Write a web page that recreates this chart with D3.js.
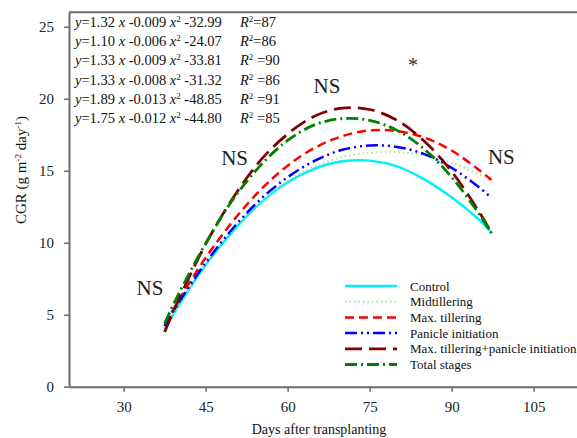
<!DOCTYPE html>
<html>
<head>
<meta charset="utf-8">
<script src="https://cdn.jsdelivr.net/npm/d3@7"></script>
<style>
  html, body { margin: 0; padding: 0; background: #fff; }
  svg { display: block; font-family: "Liberation Serif", "Times New Roman", serif; }
</style>
</head>
<body>
<svg id="chart" width="577" height="438"></svg>
<script>
// ---- data ----
const days = [37.5, 40, 45, 50, 55, 60, 65, 70, 75, 80, 85, 90, 95, 97.3];
const control      = [4.0, 5.6, 8.45, 10.8, 12.75, 14.2, 15.15, 15.65, 15.7, 15.3, 14.4, 13.15, 11.6, 10.7];
const midtillering = [4.0, 5.6, 8.5, 10.9, 12.8, 14.3, 15.3, 15.95, 16.25, 16.3, 16.05, 15.55, 14.75, 14.3];
const maxTillering = [4.3, 5.95, 8.95, 11.5, 13.65, 15.35, 16.6, 17.4, 17.8, 17.75, 17.3, 16.4, 15.05, 14.35];
const panicleInit  = [4.2, 5.8, 8.6, 11.0, 13.0, 14.55, 15.7, 16.45, 16.75, 16.65, 16.15, 15.2, 13.85, 13.1];
const maxTillPI    = [3.8, 6.0, 9.9, 13.1, 15.7, 17.55, 18.8, 19.35, 19.25, 18.5, 17.05, 14.95, 12.15, 10.65];
const totalStages  = [4.4, 6.4, 9.95, 13.0, 15.35, 17.1, 18.2, 18.62, 18.5, 17.8, 16.5, 14.55, 12.0, 10.65];

const seriesNames = ["Control", "Midtillering", "Max. tillering", "Panicle initiation",
                     "Max. tillering+panicle initiation", "Total stages"];
const xTicks = [30, 45, 60, 75, 90, 105];
const yTicks = [0, 5, 10, 15, 20, 25];

// regression equations shown on the chart
const eqLinear = ["1.32", "1.10", "1.33", "1.33", "1.89", "1.75"];
const eqQuad   = ["0.009", "0.006", "0.009", "0.008", "0.013", "0.012"];
const eqConst  = ["32.99", "24.07", "33.81", "31.32", "48.85", "44.80"];
const eqR2     = ["87", "86", "90", "86", "91", "85"];

// significance labels (day, CGR level of the baseline)
const sigDays   = [34.8, 50.3, 67.2, 99.1];
const sigLevels = [6.37, 15.4, 20.4, 15.5];
const sigTexts  = ["NS", "NS", "NS", "NS"];

// ---- styles ----
const styles = [
  {color: "#00f0ff", dash: null, width: 2.5},
  {color: "#9aea9a", dash: "1.5,3", width: 2},
  {color: "#ff0000", dash: "9,5", width: 2.5},
  {color: "#0000ff", dash: "12,4,2,4,2,4", width: 2.5},
  {color: "#800000", dash: "17,7", width: 2.8},
  {color: "#008000", dash: "12,4,2,4", width: 2.8}
];

const svg = d3.select("#chart");
const x = d3.scaleLinear().domain([20, 115]).range([69, 588.3]);
const y = d3.scaleLinear().domain([0, 26]).range([386.7, 12.3]);
const axisColor = "#6a6a6a";

// frame top line
svg.append("line").attr("x1", x(20)).attr("x2", 577).attr("y1", y(26)).attr("y2", y(26))
  .attr("stroke", axisColor).attr("stroke-width", 2);

// axes
const xAxis = svg.append("g").attr("transform", `translate(0,${y(0)})`)
  .call(d3.axisBottom(x).tickValues(xTicks).tickSize(5).tickPadding(10).tickSizeOuter(0));
const yAxis = svg.append("g").attr("transform", `translate(${x(20)},0)`)
  .call(d3.axisLeft(y).tickValues(yTicks).tickSize(5).tickPadding(10).tickSizeOuter(0));
[xAxis, yAxis].forEach(g => {
  g.attr("font-family", "Liberation Serif, serif");
  g.select(".domain").attr("stroke", axisColor).attr("stroke-width", 2);
  g.selectAll(".tick line").attr("stroke", axisColor).attr("stroke-width", 1.5);
  g.selectAll(".tick text").attr("fill", "#222").style("font-size", "15px")
    .style("font-family", "'Liberation Serif', serif");
});

// curves
const allSeries = [control, midtillering, maxTillering, panicleInit, maxTillPI, totalStages];
const line = d3.line().x((d, i) => x(days[i])).y(d => y(d)).curve(d3.curveCatmullRom.alpha(0.5));
allSeries.forEach((s, k) => {
  svg.append("path").datum(s).attr("d", line)
    .attr("fill", "none").attr("stroke", styles[k].color)
    .attr("stroke-width", styles[k].width)
    .attr("stroke-dasharray", styles[k].dash);
});

// equations
const eqG = svg.append("g").style("font-size", "14.5px").attr("fill", "#111");
eqLinear.forEach((a, i) => {
  const yy = 27 + i * 19.2;
  const t = eqG.append("text").attr("x", 75).attr("y", yy);
  t.append("tspan").style("font-style", "italic").text("y");
  t.append("tspan").text("=" + a + " ");
  t.append("tspan").style("font-style", "italic").text("x");
  t.append("tspan").text(" -" + eqQuad[i] + " ");
  t.append("tspan").style("font-style", "italic").text("x");
  t.append("tspan").attr("dy", -5).style("font-size", "9px").text("2");
  t.append("tspan").attr("dy", 5).text(" -" + eqConst[i]);
  const r = eqG.append("text").attr("x", 240).attr("y", yy);
  r.append("tspan").style("font-style", "italic").text("R");
  r.append("tspan").attr("dy", -5).style("font-size", "9px").text("2");
  r.append("tspan").attr("dy", 5).text((i < 2 ? "" : " ") + "=" + eqR2[i]);
});

// significance labels
sigDays.forEach((d, i) => {
  svg.append("text").attr("x", x(d)).attr("y", y(sigLevels[i])).attr("text-anchor", "middle")
    .style("font-size", "21px").attr("fill", "#222").text(sigTexts[i]);
});
svg.append("text").attr("x", 413).attr("y", 72).attr("text-anchor", "middle")
  .style("font-size", "20px").attr("fill", "#333").text("*");

// legend
const lg = svg.append("g");
seriesNames.forEach((n, i) => {
  const yy = 286 + i * 15.7;
  lg.append("line").attr("x1", 345).attr("x2", 397).attr("y1", yy).attr("y2", yy)
    .attr("stroke", styles[i].color).attr("stroke-width", styles[i].width)
    .attr("stroke-dasharray", styles[i].dash);
  lg.append("text").attr("x", 410).attr("y", yy + 4.5).style("font-size", "13px")
    .attr("fill", "#111").text(n);
});

// axis titles
svg.append("text").attr("x", 319).attr("y", 434).attr("text-anchor", "middle")
  .style("font-size", "14px").attr("fill", "#111").text("Days after transplanting");

const yl = svg.append("text").attr("transform", "translate(26,170) rotate(-90)")
  .attr("text-anchor", "middle").style("font-size", "15px").attr("fill", "#111");
yl.append("tspan").text("CGR (g m");
yl.append("tspan").attr("dy", -5).style("font-size", "9px").text("-2");
yl.append("tspan").attr("dy", 5).text(" day");
yl.append("tspan").attr("dy", -5).style("font-size", "9px").text("-1");
yl.append("tspan").attr("dy", 5).text(")");
</script>
</body>
</html>
